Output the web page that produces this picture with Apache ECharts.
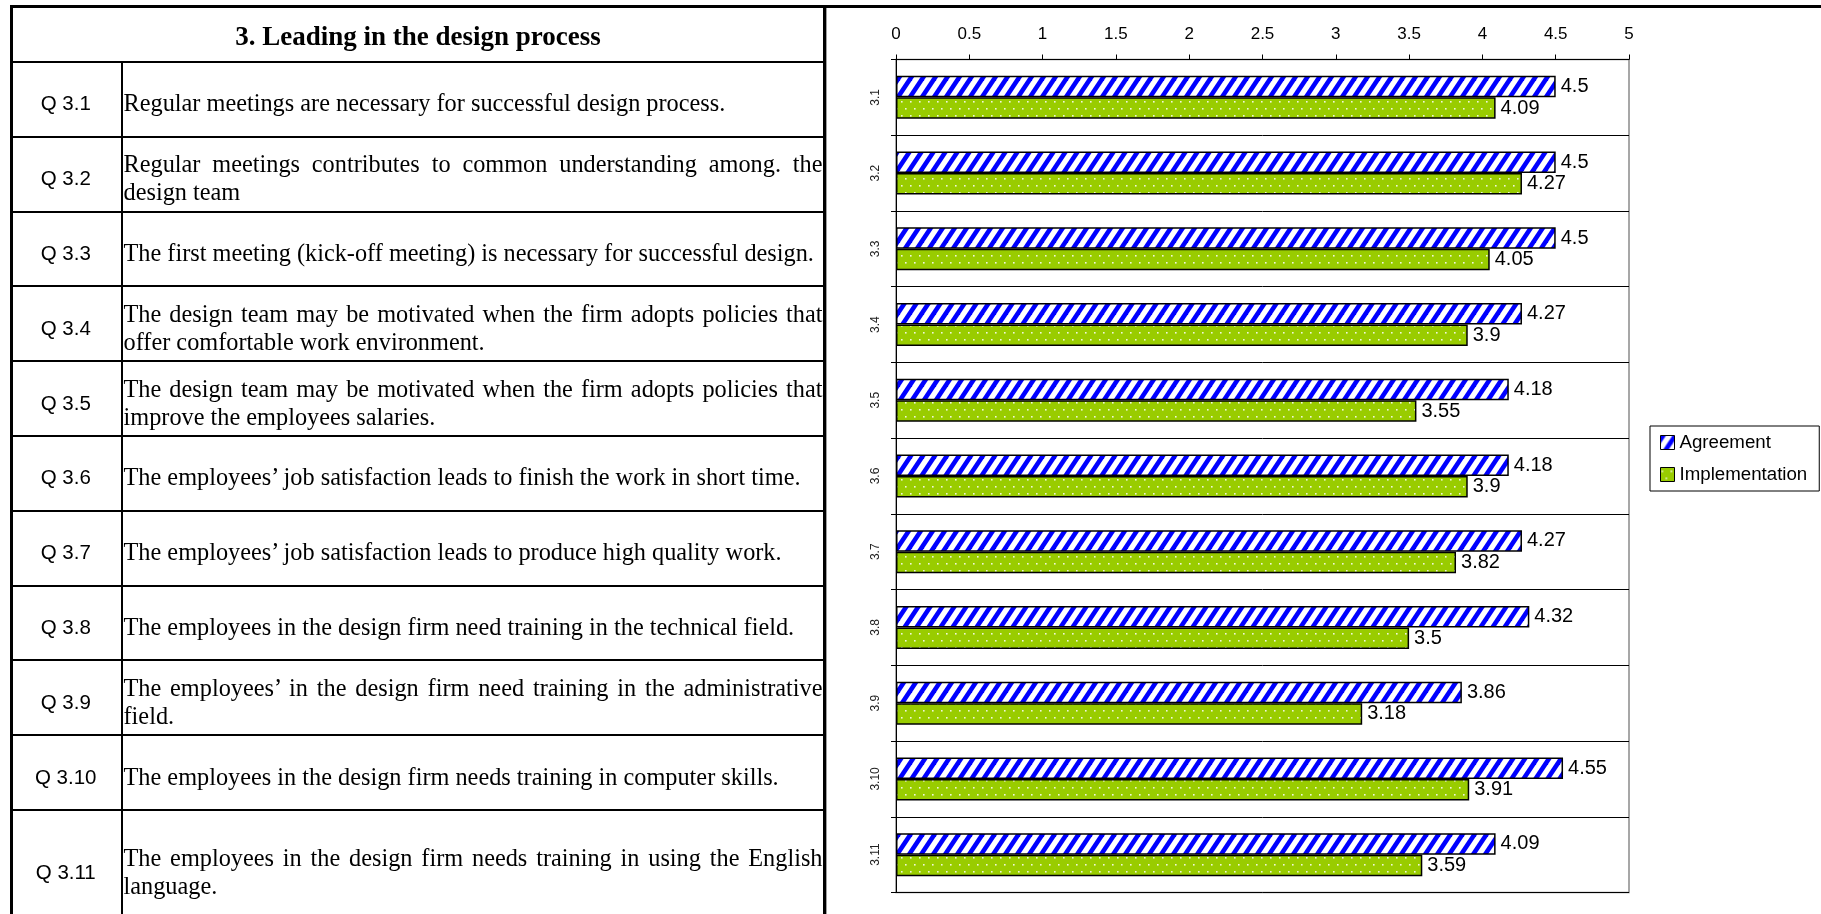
<!DOCTYPE html>
<html><head><meta charset="utf-8">
<script src="https://cdn.jsdelivr.net/npm/echarts@6/dist/echarts.min.js"></script>
<style>
html,body{margin:0;padding:0;background:#fff;width:1821px;height:914px;overflow:hidden;}
#chart{position:absolute;left:0;top:0;width:1821px;height:914px;}
#table{position:absolute;left:0;top:0;width:830px;height:914px;z-index:2;}
.ln{position:absolute;background:#000;}
.title{position:absolute;left:13px;top:8px;width:810px;height:53px;display:flex;align-items:center;justify-content:center;font-family:'Liberation Serif','Times New Roman',serif;font-weight:bold;font-size:27px;color:#000;box-sizing:border-box;padding-top:3px;}
.q{position:absolute;left:13px;width:107.5px;display:flex;align-items:center;justify-content:center;font-family:'Liberation Sans',Arial,sans-serif;font-size:20.5px;color:#000;box-sizing:border-box;padding-top:8px;padding-right:2px;}
.d{position:absolute;left:123.5px;width:699px;display:flex;align-items:center;font-family:'Liberation Serif','Times New Roman',serif;font-size:24.3px;line-height:28px;color:#000;box-sizing:border-box;padding-top:8px;}
.d span{display:block;width:100%;text-align:justify;text-align-last:left;}
</style></head>
<body>
<div id="chart"></div>
<div id="table"></div>
<script>
// ---- data ----
const tableTitle = '3. Leading in the design process';
const qLabels = ['Q 3.1','Q 3.2','Q 3.3','Q 3.4','Q 3.5','Q 3.6','Q 3.7','Q 3.8','Q 3.9','Q 3.10','Q 3.11'];
const qTexts = [
  'Regular meetings are necessary for successful design process.',
  'Regular meetings contributes to common understanding among. the design team',
  'The first meeting (kick-off meeting) is necessary for successful design.',
  'The design team may be motivated when the firm adopts policies that offer comfortable work environment.',
  'The design team may be motivated when the firm adopts policies that improve the employees salaries.',
  'The employees\u2019 job satisfaction leads to finish the work in short time.',
  'The employees\u2019 job satisfaction leads to produce high quality work.',
  'The employees in the design firm need training in the technical field.',
  'The employees\u2019 in the design firm need training in the administrative field.',
  'The employees in the design firm needs training in computer skills.',
  'The employees in the design firm needs training in using the English language.'
];
const categories = ['3.1','3.2','3.3','3.4','3.5','3.6','3.7','3.8','3.9','3.10','3.11'];
const agreement = [4.5, 4.5, 4.5, 4.27, 4.18, 4.18, 4.27, 4.32, 3.86, 4.55, 4.09];
const implementation = [4.09, 4.27, 4.05, 3.9, 3.55, 3.9, 3.82, 3.5, 3.18, 3.91, 3.59];
const seriesNames = ['Agreement','Implementation'];

// ---- table (HTML) ----
const tb = document.getElementById('table');
function line(l,t,w,h){const d=document.createElement('div');d.className='ln';d.style.cssText=`left:${l}px;top:${t}px;width:${w}px;height:${h}px;`;tb.appendChild(d);}
line(10,5,1811,3);
line(10,5,3,909);
line(823,5,3,909);
line(10,61,816,2);
line(120.5,62,2,852);
const t = document.createElement('div'); t.className='title'; t.textContent = tableTitle; tb.appendChild(t);
const rowTop0 = 63, rowH = 74.8, lastRowH = 116;
qLabels.forEach((q,i)=>{
  const last = i === qLabels.length-1;
  const top = rowTop0 + i*rowH, h = (last ? lastRowH : rowH) - 2;
  const a = document.createElement('div'); a.className='q'; a.style.top=top+'px'; a.style.height=h+'px'; a.textContent=q; tb.appendChild(a);
  const b = document.createElement('div'); b.className='d'; b.style.top=top+'px'; b.style.height=h+'px';
  const s = document.createElement('span'); s.textContent = qTexts[i]; b.appendChild(s); tb.appendChild(b);
  if (!last) line(10, top + h, 816, 2);
});
const fr = document.createElement('div'); fr.style.cssText='position:absolute;left:826px;top:8px;width:1px;height:906px;background:#a0a0a0;'; tb.appendChild(fr);

// ---- patterns ----
function stripeCanvas(){
  const c=document.createElement('canvas'); c.width=12; c.height=18;
  const g=c.getContext('2d'); g.fillStyle='#fff'; g.fillRect(0,0,12,18);
  g.fillStyle='#0000ff';
  for (const k of [-12,0,12]){ g.beginPath(); g.moveTo(k,18); g.lineTo(k+5.5,18); g.lineTo(k+17.5,0); g.lineTo(k+12,0); g.closePath(); g.fill(); }
  return c;
}
function dotCanvas(){
  const c=document.createElement('canvas'); c.width=18; c.height=14;
  const g=c.getContext('2d'); g.fillStyle='#99cc00'; g.fillRect(0,0,18,14);
  g.fillStyle='rgba(255,255,255,0.85)';
  [[1,3],[10,3],[5,10],[14,10]].forEach(p=>g.fillRect(p[0],p[1],1.6,1.6));
  return c;
}
const fontSans = "'Liberation Sans', Arial, sans-serif";

const chart = echarts.init(document.getElementById('chart'));
chart.setOption({
  animation:false,
  backgroundColor:'transparent',
  grid:{left:896, top:59.5, width:733, height:833, show:true, borderColor:'#8a8a8a', borderWidth:1.5, backgroundColor:'#fff'},
  legend:{
    data:seriesNames, orient:'vertical', left:1650, top:426, icon:'rect',
    itemWidth:14, itemHeight:14, itemGap:13, padding:[7,12,7,10],
    backgroundColor:'#fff', borderColor:'#000', borderWidth:1,
    itemStyle:{borderColor:'#000', borderWidth:1},
    textStyle:{fontFamily:fontSans, fontSize:18.7, color:'#000'}
  },
  xAxis:{
    type:'value', position:'top', min:0, max:5, interval:0.5,
    axisLine:{show:true, lineStyle:{color:'#000', width:1}},
    axisTick:{show:true, length:5, lineStyle:{color:'#000'}},
    axisLabel:{fontFamily:fontSans, fontSize:17, color:'#000', margin:17},
    splitLine:{show:false}
  },
  yAxis:{
    type:'category', data:categories, inverse:true,
    axisLine:{show:true, lineStyle:{color:'#000', width:1}},
    axisTick:{show:true, length:5, lineStyle:{color:'#000'}},
    axisLabel:{fontFamily:fontSans, fontSize:12, color:'#222', rotate:90, margin:14},
    splitLine:{show:true, lineStyle:{color:'#000', width:1}}
  },
  series:[
    {type:'bar', name:seriesNames[0], data:agreement, barWidth:21.5, barGap:'0%',
     itemStyle:{color:{image:stripeCanvas(), repeat:'repeat'}, borderColor:'#000', borderWidth:1.5},
     label:{show:true, position:'right', distance:5, fontFamily:fontSans, fontSize:20, color:'#000'}},
    {type:'bar', name:seriesNames[1], data:implementation, barWidth:21.5, barGap:'0%',
     itemStyle:{color:{image:dotCanvas(), repeat:'repeat'}, borderColor:'#000', borderWidth:1.5},
     label:{show:true, position:'right', distance:5, fontFamily:fontSans, fontSize:20, color:'#000'}}
  ]
});
</script>
</body></html>
